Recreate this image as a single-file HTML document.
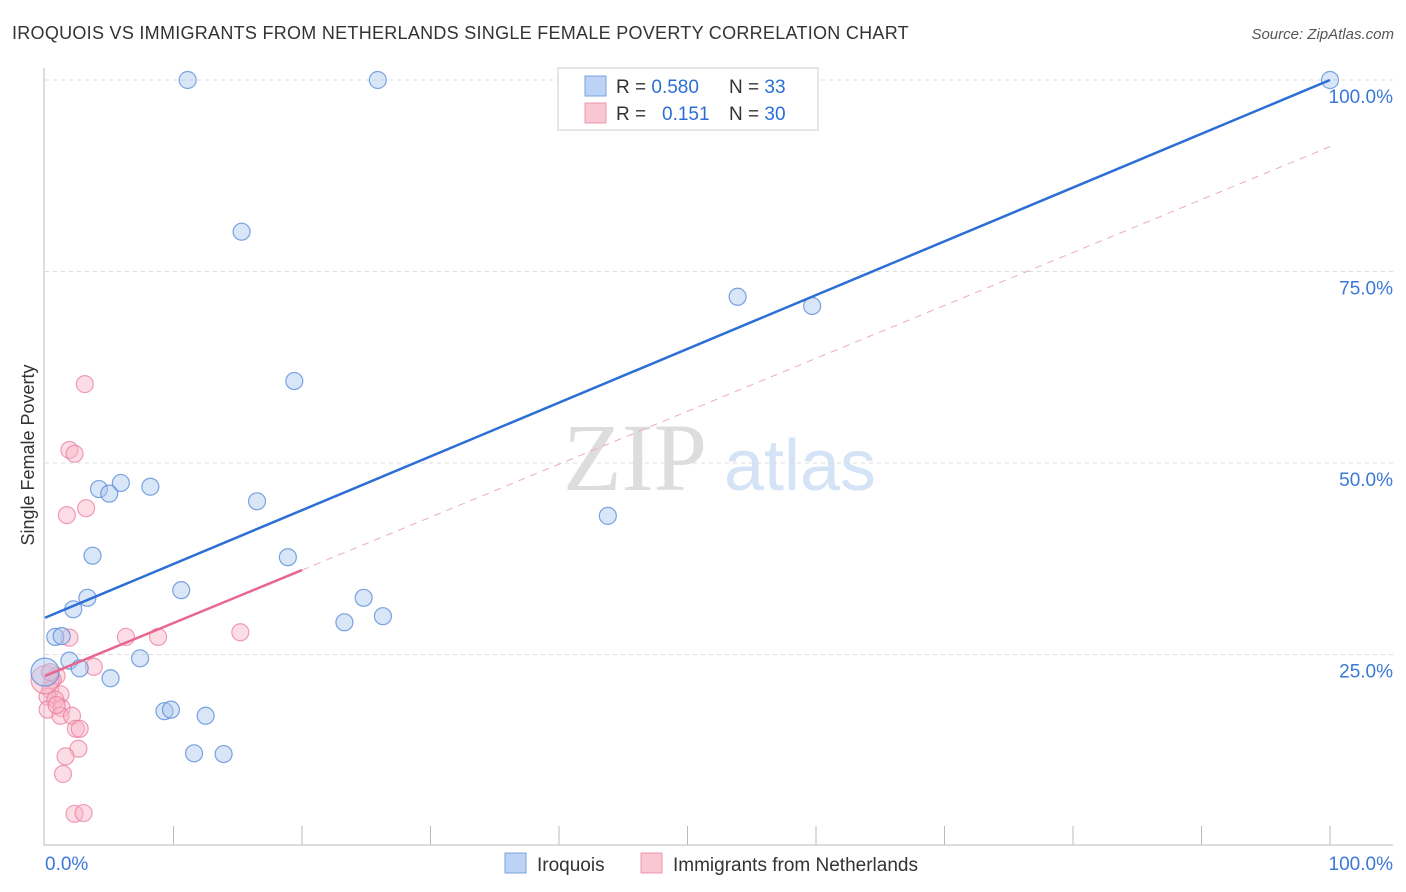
<!DOCTYPE html>
<html><head><meta charset="utf-8"><style>
body{margin:0;background:#fff;font-family:"Liberation Sans",sans-serif;}
svg{display:block}
</style></head><body>
<svg id="c" width="1406" height="892">
<text x="12" y="39" font-size="18" letter-spacing="0.28" fill="#333">IROQUOIS VS IMMIGRANTS FROM NETHERLANDS SINGLE FEMALE POVERTY CORRELATION CHART</text>
<text x="1394" y="39" font-size="15" fill="#555" font-style="italic" text-anchor="end">Source: ZipAtlas.com</text>
<text x="635" y="490" font-size="96" fill="#ddd" font-family="Liberation Serif,serif" text-anchor="middle">ZIP</text>
<text x="800" y="490" font-size="72" fill="#d4e3f5" text-anchor="middle">atlas</text>
<text x="34" y="455" font-size="18" fill="#333" text-anchor="middle" transform="rotate(-90 34 455)">Single Female Poverty</text>
<g id="grid"></g><g id="pts"></g><g id="lines"></g>
<rect x="558" y="68" width="260" height="62" fill="#fff" stroke="#ccc"/>
<rect x="585" y="76" width="21" height="20" fill="#bcd3f5" stroke="#7aa3e0"/>
<rect x="585" y="103" width="21" height="20" fill="#f9c6d4" stroke="#eb97ae"/>
<text x="616" y="93" font-size="19" fill="#333">R = <tspan fill="#2b6fd6">0.580</tspan><tspan x="729">N = </tspan><tspan fill="#2b6fd6">33</tspan></text>
<text x="616" y="120" font-size="19" fill="#333">R = <tspan x="662" fill="#2b6fd6">0.151</tspan><tspan x="729">N = </tspan><tspan fill="#2b6fd6">30</tspan></text>
<rect x="505" y="853" width="21" height="20" fill="#bcd3f5" stroke="#7aa3e0"/>
<text x="537" y="871" font-size="19" fill="#333">Iroquois</text>
<rect x="641" y="853" width="21" height="20" fill="#f9c6d4" stroke="#eb97ae"/>
<text x="673" y="871" font-size="19" fill="#333">Immigrants from Netherlands</text>
</svg>
<script>
const blueX=[11.1,25.9,100,15.3,53.9,59.7,19.4,5.9,4.2,5.0,8.2,16.5,43.8,3.7,18.9,10.6,3.3,24.8,2.2,26.3,23.3,0.8,1.3,1.9,2.7,7.4,5.1,9.3,9.8,12.5,11.6,13.9,0.0];
const blueY=[100,100,100,80.2,71.7,70.5,60.7,47.4,46.6,46.0,46.9,45.0,43.1,37.9,37.7,33.4,32.4,32.4,30.9,30.0,29.2,27.3,27.4,24.2,23.2,24.5,21.9,17.6,17.8,17.0,12.1,12.0,22.7];
const pinkX=[3.1,1.9,2.3,1.7,3.2,1.9,6.3,8.8,15.2,3.8,0.9,0.6,0.4,1.2,0.2,0.8,0.2,1.3,1.2,2.1,2.4,2.7,2.6,1.6,1.4,2.3,3.0,0,0.4,0.9];
const pinkY=[60.3,51.7,51.2,43.2,44.1,27.2,27.3,27.3,27.9,23.4,22.2,21.7,20.4,19.8,19.5,19.1,17.8,18.0,17.0,17.0,15.3,15.3,12.7,11.7,9.4,4.2,4.3,21.7,22.7,18.4];
const blueLine=[29.8,100];
const pinkLine=[22.2,91.3];
const yTicks=[25,50,75,100];
const xTickVals=[10,20,30,40,50,60,70,80,90,100];
const NS="http://www.w3.org/2000/svg";
const sx=v=>45+v*12.85, sy=v=>846-v*7.66;
function mk(t,a,p){const e=document.createElementNS(NS,t);for(const k in a)e.setAttribute(k,a[k]);document.getElementById(p).appendChild(e);return e;}
const g='grid';
let ax=mk('line',{x1:44,y1:68,x2:44,y2:845,stroke:'#bbb'},g);


let bx=mk('line',{x1:44,y1:845,x2:1393,y2:845,stroke:'#bbb'},g);


yTicks.forEach(v=>{
 const l=mk('line',{x1:45,y1:sy(v),x2:1393,y2:sy(v),stroke:'#ddd','stroke-dasharray':'4,4'},g);
 
 
 const t=mk('text',{x:1393,y:sy(v)+23,'font-size':19,fill:'#3b78d8','text-anchor':'end'},g);
 t.textContent=v.toFixed(1)+'%';
 
 
});
xTickVals.forEach(v=>{
 const l=mk('line',{x1:sx(v),y1:826,x2:sx(v),y2:845,stroke:'#bbb'},g);
 
 
});
let t0=mk('text',{x:45,y:870,'font-size':19,fill:'#3b78d8'},g);t0.textContent='0.0%';


let t1=mk('text',{x:1393,y:870,'font-size':19,fill:'#3b78d8','text-anchor':'end'},g);t1.textContent='100.0%';


function pts(X,Y,f,s,n){X.forEach((x,i)=>{const big=(x===0);
 const c=mk('circle',{cx:sx(x),cy:sy(Y[i]),r:big?14:8.5,fill:f,stroke:s,'stroke-width':1.2},'pts');
 
 });}
pts(pinkX,pinkY,'rgba(248,180,200,0.45)','rgba(232,120,155,0.7)','netherlands');
pts(blueX,blueY,'rgba(170,200,240,0.45)','rgba(80,135,215,0.75)','iroquois');
let bl=mk('line',{x1:sx(0),y1:sy(blueLine[0]),x2:sx(100),y2:sy(blueLine[1]),stroke:'#2b6fd6','stroke-width':2.5},'lines');


const pAt=x=>pinkLine[0]+(pinkLine[1]-pinkLine[0])*x/100;
let pd=mk('line',{x1:sx(20),y1:sy(pAt(20)),x2:sx(100),y2:sy(pinkLine[1]),stroke:'#eeaabd','stroke-width':1,'stroke-dasharray':'7,6'},'lines');


let ps=mk('line',{x1:sx(0),y1:sy(pinkLine[0]),x2:sx(20),y2:sy(pAt(20)),stroke:'#e8668f','stroke-width':2.5},'lines');


</script>
</body></html>
